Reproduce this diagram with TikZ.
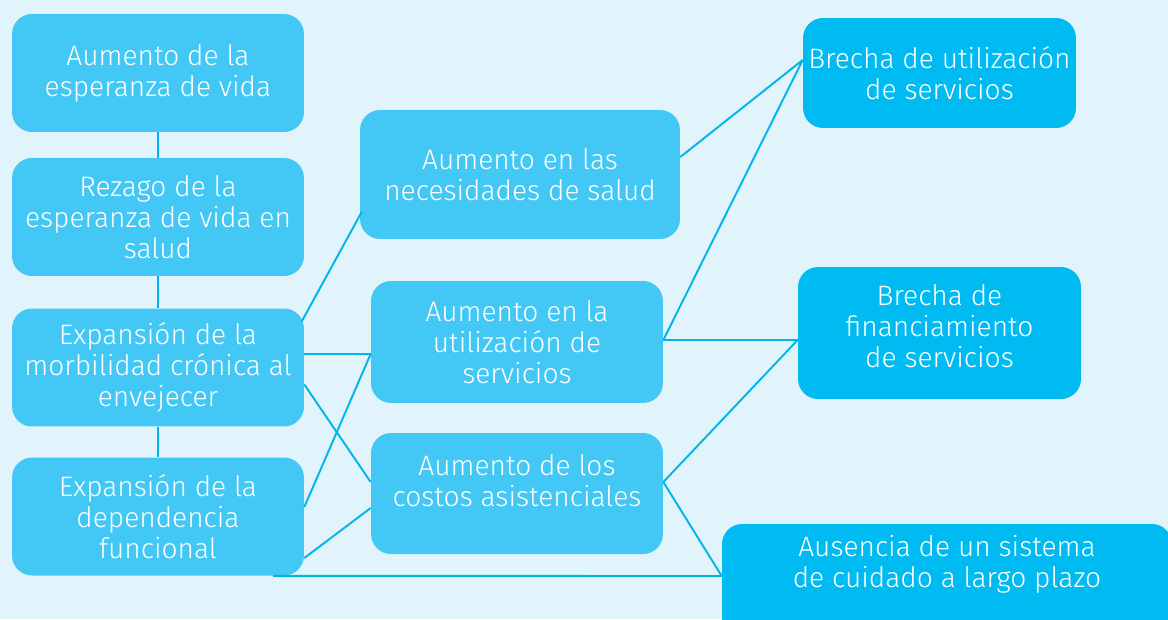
\documentclass[tikz,border=0pt]{standalone}
\usepackage{fontspec}
\setmainfont{Fira Sans}[UprightFont={* Light}]
\usetikzlibrary{calc}
\definecolor{pagebg}{HTML}{E1F4FB}
\definecolor{causefill}{HTML}{43C8F5}
\definecolor{gapfill}{HTML}{00BBF1}
\definecolor{linkblue}{HTML}{00B4EC}
\tikzset{
  boxtext/.style = {text = white, align = center, inner sep = 0pt},
  cause/.style = {boxtext, fill = causefill, rounded corners = 0.4cm,
    minimum width = 5.84cm, minimum height = 2.36cm},
  gap/.style = {cause, fill = gapfill},
  link/.style = {draw = linkblue, line width = 1.1pt}
}
\begin{document}
\begin{tikzpicture}[x = 0.02cm, y = -0.02cm, font = \fontsize{16}{17.7}\selectfont]
    \useasboundingbox (0, 0) rectangle (1168, 619);
    \clip (0, 0) rectangle (1168, 619);
    \fill[pagebg] (0, 0) rectangle (1168, 619);
    % left column
    \node[cause] (vida) at (158, 73) {Aumento de la\\esperanza de vida};
    \node[cause] (rezago) at (158, 217) {Rezago de la\\esperanza de vida en\\salud};
    \node[cause] (morb) at (158, 367.5) {Expansión de la\\morbilidad crónica al\\envejecer};
    \node[cause] (dep) at (158, 516.5) {Expansión de la\\dependencia\\funcional};
    % middle column
    \node[cause, minimum width = 6.4cm, minimum height = 2.58cm] (necesidades) at (520, 174.5) {Aumento en las\\necesidades de salud};
    \node[cause, minimum height = 2.44cm] (utiliz) at (517, 342) {Aumento en la\\utilización de\\servicios};
    \node[cause, minimum height = 2.42cm] (costos) at (517, 493.5) {};
    \node[boxtext] at ($(costos) + (0, -12.5)$) {Aumento de los\\costos asistenciales};
    % right column
    \node[gap, minimum width = 5.46cm, minimum height = 2.2cm] (brechaU) at (939.5, 73) {Brecha de utilización\\de servicios};
    \node[gap, minimum width = 5.66cm, minimum height = 2.64cm] (brechaF) at (939.5, 333) {};
    \node[boxtext] at ($(brechaF) + (0, -7)$) {Brecha de\\financiamiento\\de servicios};
    \node[gap, minimum width = 9cm, minimum height = 2.32cm] (cuidado) at (947, 582) {};
    \node[boxtext] at ($(cuidado) + (0, -18)$) {Ausencia de un sistema\\de cuidado a largo plazo};
    % links
    \draw[link] (vida.south) -- (rezago.north);
    \draw[link] (rezago.south) -- (morb.north);
    \draw[link] (morb.south) -- (dep.north);
    \draw[link] ($(morb.north east) + (-3, 14)$) -- ($(necesidades.west) + (2, 37.5)$);
    \draw[link] ($(morb.east) + (0, -13.5)$) -- ($(utiliz.west) + (0, 12)$);
    \draw[link] ($(morb.east) + (0, 17)$) -- ($(costos.west) + (0, -11.5)$);
    \draw[link] ($(dep.east) + (0, -9.5)$) -- ($(utiliz.west) + (0, 12)$);
    \draw[link] ($(dep.east) + (0, 41.5)$) -- ($(costos.west) + (0, 14.5)$);
    \coordinate (depfoot) at ($(dep.south) + (115, 0)$);
    \draw[link] (depfoot) -- ($(cuidado.west) + (0, -6)$);
    \draw[link] ($(necesidades.east) + (0, -17.5)$) -- ($(brechaU.west) + (0, -13)$);
    \draw[link] ($(utiliz.east) + (0, -2)$) -- ($(brechaU.west) + (0, -13)$);
    \draw[link] ($(utiliz.east) + (0, -2)$) -- ($(brechaF.west) + (0, 7)$);
    \draw[link] ($(costos.east) + (0, -11.5)$) -- ($(brechaF.west) + (0, 7)$);
    \draw[link] ($(costos.east) + (0, -11.5)$) -- ($(cuidado.west) + (0, -6)$);
\end{tikzpicture}
\end{document}
